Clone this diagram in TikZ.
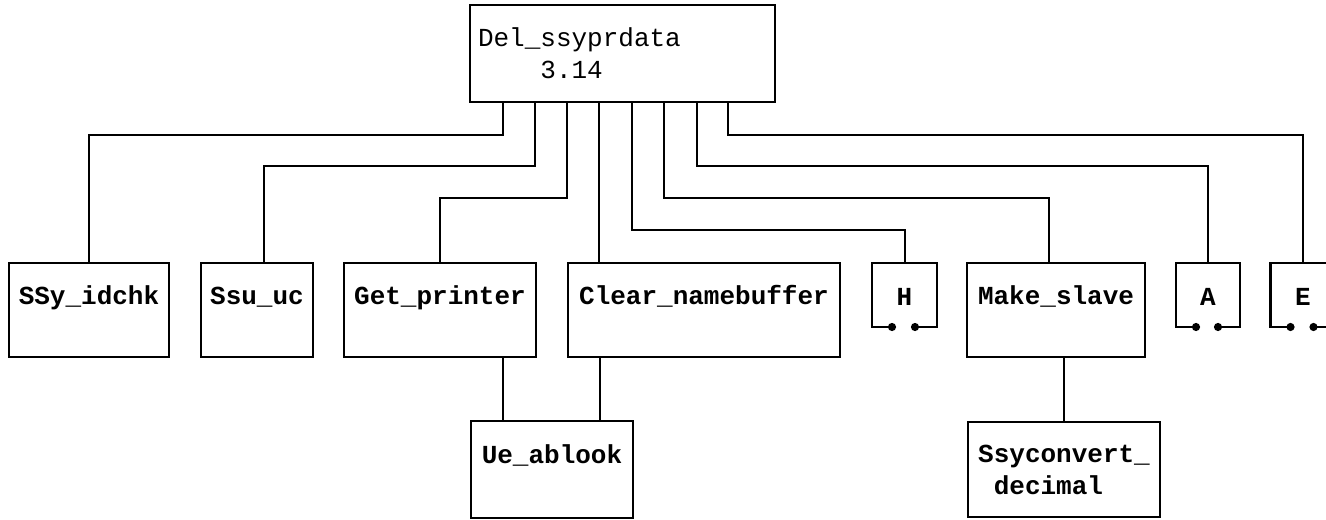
\documentclass[tikz,border=0pt]{standalone}
\usepackage{fontspec}
\setmonofont{Liberation Mono}
\usetikzlibrary{arrows.meta}

\begin{document}
\begin{tikzpicture}[x=0.5pt,y=-0.5pt,
  box/.style={draw,line width=1.2pt,inner xsep=2pt,inner ysep=0pt,font=\fontsize{13}{16}\selectfont\ttfamily\bfseries},
  row/.style={box,text height=20.5pt,text depth=26.5pt},
  tag/.style={box,draw=none,outer sep=0pt,text height=21pt,text depth=11pt},
  link/.style={line width=1pt},
  gap/.style={line width=1.2pt,{Circle[length=4pt]}-{Circle[length=4pt]}}]
\useasboundingbox (0,0) rectangle (1326,519);
\clip (0,0) rectangle (1326,519);
\node[box,font=\fontsize{13}{16}\selectfont\ttfamily,align=left,text width=144.5pt,inner xsep=4pt,minimum height=48.5pt] (top) at (622.5,53.5){Del\_ssyprdata\\\hphantom{Del\_}3.14};
\node[row,minimum width=80pt] (ssy) at (89,310){SSy\_idchk};
\node[row,minimum width=56pt] (ssu) at (257,310){Ssu\_uc};
\node[row,minimum width=96pt] (gp) at (440,310){Get\_printer};
\node[row,minimum width=136pt] (clr) at (704,310){Clear\_namebuffer};
\node[tag,minimum width=32.5pt] (h) at (904.5,295){H};
\node[row,minimum width=89pt] (ms) at (1056,310){Make\_slave};
\node[tag,minimum width=32pt] (a) at (1208,295){A};
\node[tag,minimum width=32.5pt] (e) at (1303,295){E};
\node[box,text height=21pt,text depth=27.5pt,minimum width=81pt] (ue) at (552,469.5){Ue\_ablook};
\node[box,align=left,minimum width=96pt,minimum height=47.5pt] (sc) at (1064,469.5){Ssyconvert\_\\\hphantom{S}decimal};
% open boxes with the two contact dots
\foreach \n in {h,a,e}
  \draw[gap] ([xshift=12pt]\n.south west) -- (\n.south west) -- (\n.north west) -- (\n.north east) -- (\n.south east) -- ([xshift=-13pt]\n.south east);
% calls
\draw[link] (503,0 |- top.south) -- (503,135) -| (ssy.north);
\draw[link] (535,0 |- top.south) -- (535,166) -| ([xshift=3.5pt]ssu.north);
\draw[link] (567,0 |- top.south) -- (567,198) -| (gp.north);
\draw[link] (599,0 |- top.south) -- (599,0 |- clr.north);
\draw[link] (632,0 |- top.south) -- (632,230) -| (h.north);
\draw[link] (664,0 |- top.south) -- (664,198) -| ([xshift=-3.5pt]ms.north);
\draw[link] (697,0 |- top.south) -- (697,166) -| (a.north);
\draw[link] (728,0 |- top.south) -- (728,135) -| (e.north);
\draw[link] (503,0 |- gp.south) -- (503,0 |- ue.north);
\draw[link] (600,0 |- clr.south) -- (600,0 |- ue.north);
\draw[link] (sc.north |- ms.south) -- (sc.north);
\end{tikzpicture}
\end{document}
